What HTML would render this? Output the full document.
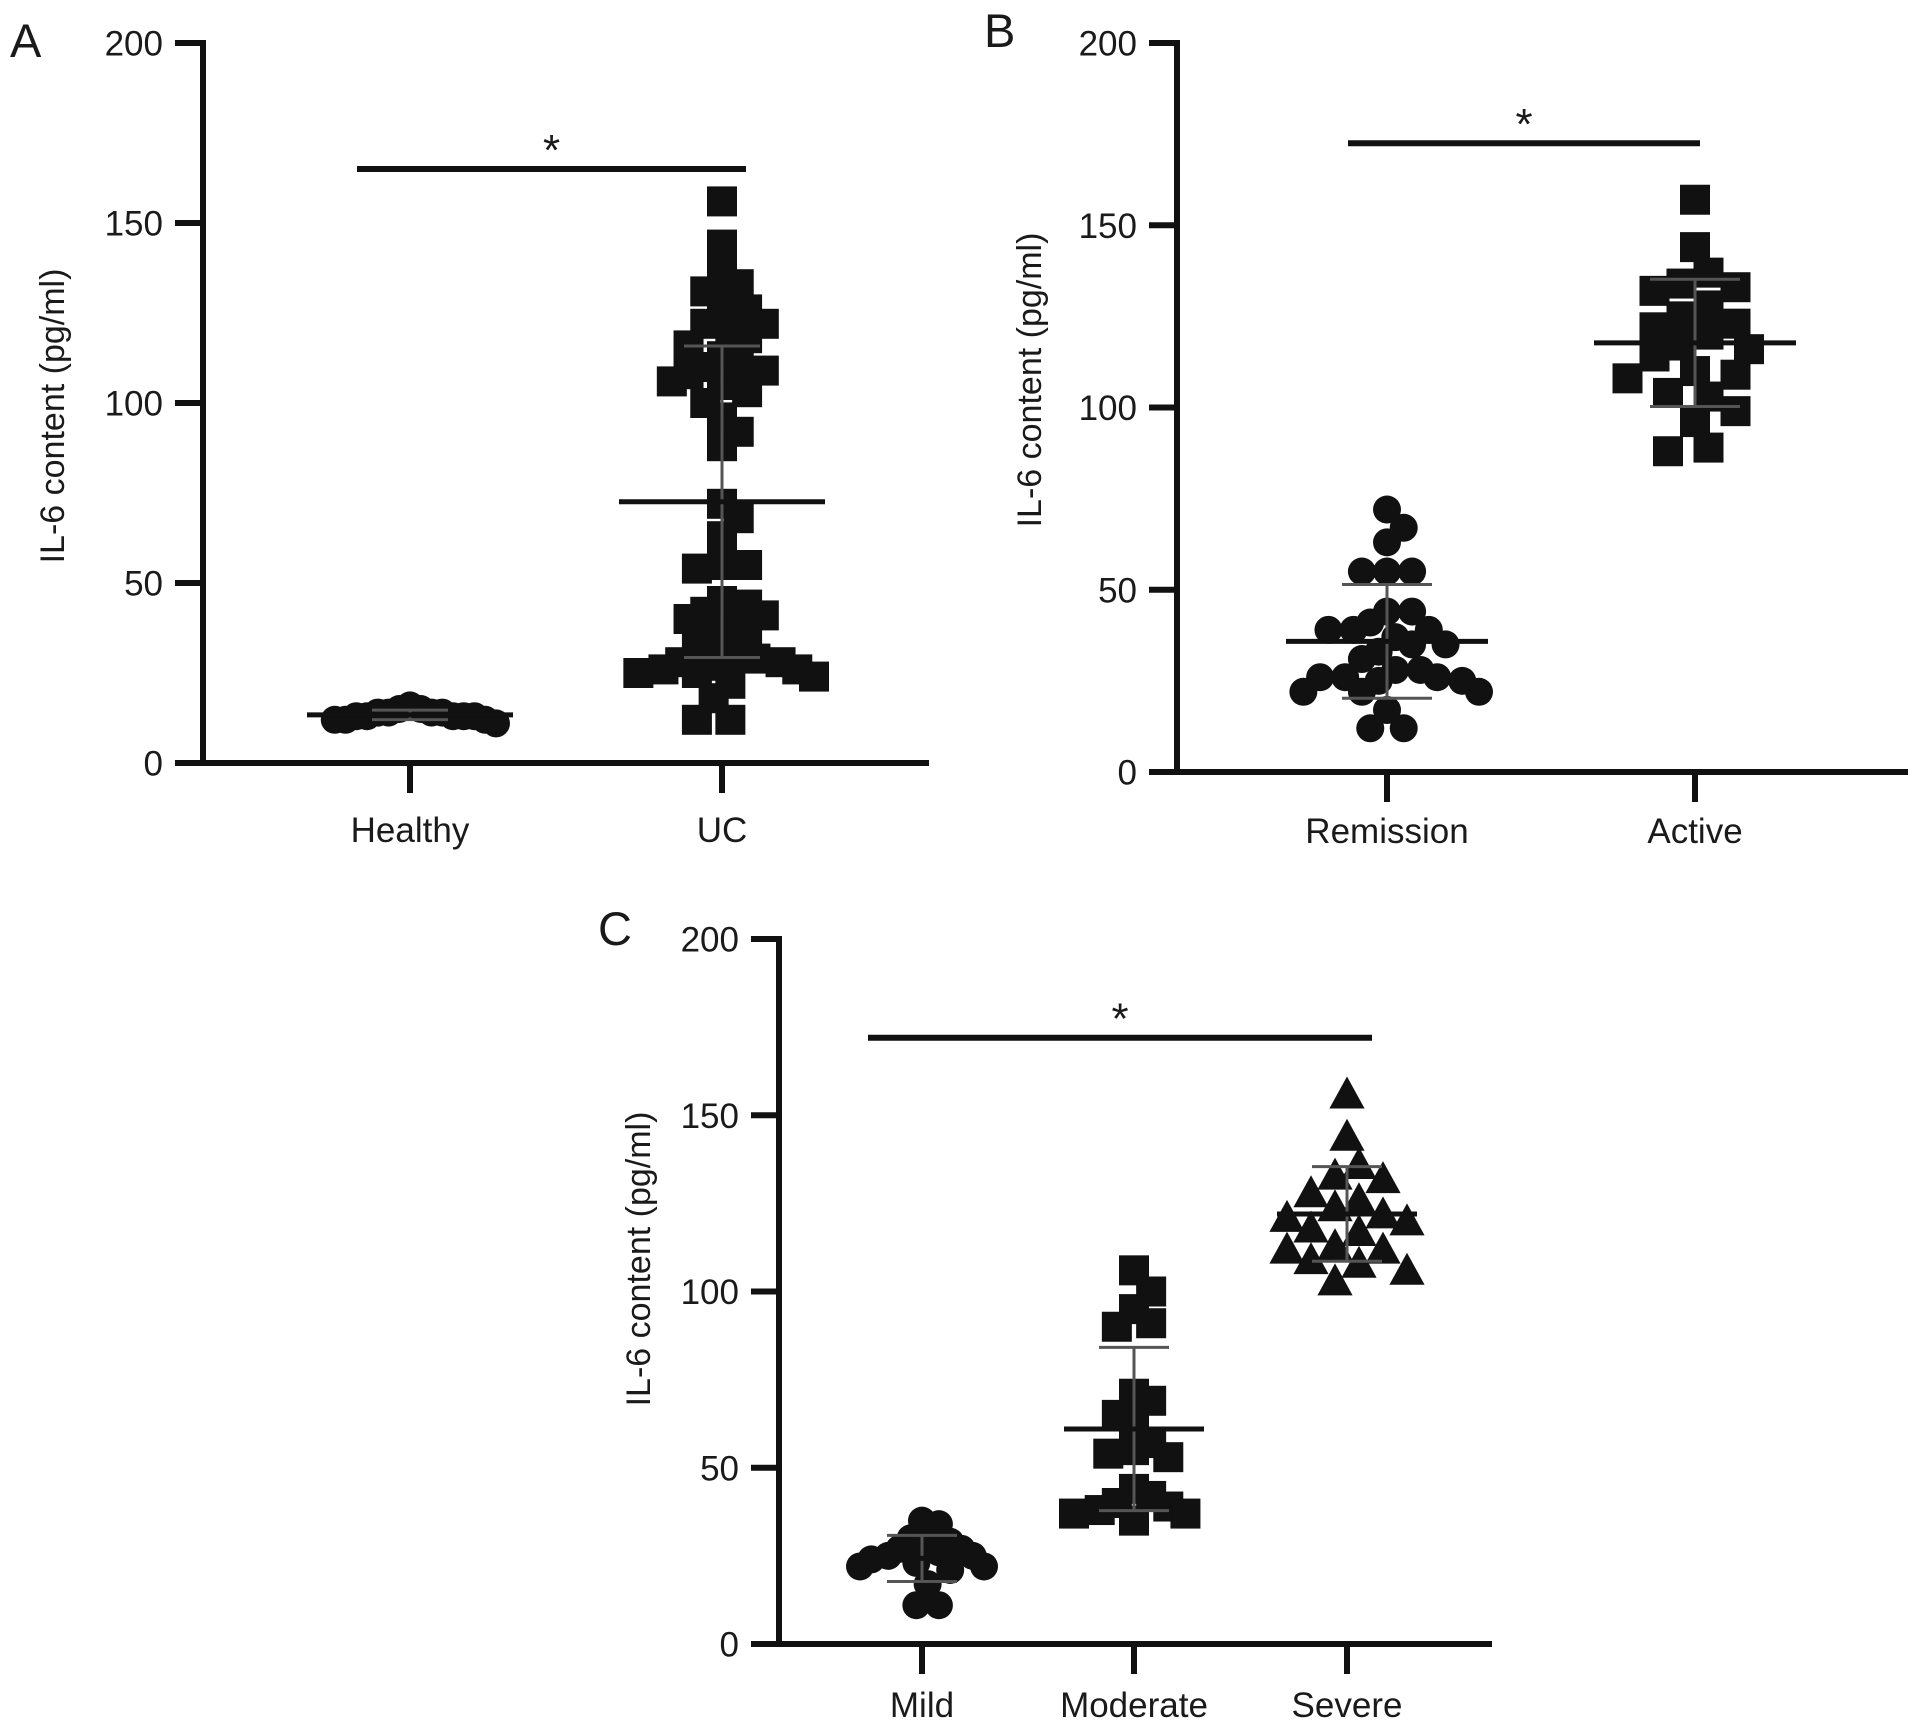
<!DOCTYPE html>
<html><head><meta charset="utf-8"><style>
html,body{margin:0;padding:0;background:#fff}
svg{display:block}
text{font-family:"Liberation Sans",Arial,sans-serif;fill:#1a1a1a}
</style></head><body>
<svg id="fig" width="1913" height="1731" viewBox="0 0 1913 1731" xmlns="http://www.w3.org/2000/svg"></svg>
<script>
// ---- data ----
const yTicks = [0, 50, 100, 150, 200];
const catsA = ["Healthy", "UC"];
const healthy = [13,14,15,13,11,14,12,13,12,14,13,15,12,16,14,13];
const uc = [156,144,136,133,131,128,126,122,122,121,118,116,113,110,110,109,108,106,105,103,100,96,92,88,72,68,63,55,55,54,45,44,42,41,40,38,36,35,33,30,29,28,28,27,26,26,25,25,24,22,18,12,12];
const catsB = ["Remission", "Active"];
const remission = [72,67,63,55,55,55,44,44,41,39,39,39,37,35,35,33,31,28,28,26,26,26,25,25,22,22,22,17,12,12];
const active = [157,144,137,134,133,132,128,125,123,122,120,117,116,114,110,109,108,104,103,99,96,89,88];
const catsC = ["Mild", "Moderate", "Severe"];
const mild = [35,34,30,29,28,27,27,26,25,25,24,23,22,22,21,17,11,11];
const moderate = [106,100,95,91,90,71,69,65,63,57,55,54,53,44,42,40,39,38,37,37,35];
const severe = [156,144,136,133,132,128,126,124,122,121,120,118,117,113,112,112,109,108,106,103];
const sigA = 165, sigB = 172.5, sigC = 172;

const NS = "http://www.w3.org/2000/svg";
const svg = document.getElementById("fig");
function mk(tag, attrs, parent, name) {
  const e = document.createElementNS(NS, tag);
  for (const k in attrs) e.setAttribute(k, attrs[k]);
  
  
  (parent || svg).appendChild(e);
  return e;
}
function mean(a){return a.reduce((s,v)=>s+v,0)/a.length;}
function sd(a){const m=mean(a);return Math.sqrt(a.reduce((s,v)=>s+(v-m)*(v-m),0)/(a.length-1));}

function swarm(vals, cx, y, s, halfW) {
  const idx = vals.map((v,i)=>i).sort((a,b)=>vals[b]-vals[a]);
  const placed = [];
  const step = s * 0.45, minD = s * 0.92;
  idx.forEach(i => {
    const py = y(vals[i]);
    for (let k = 0; k < 60; k++) {
      let found = null;
      for (const sg of (k===0?[1]:[1,-1])) {
        const px = cx + sg * k * step;
        let ok = true;
        for (const p of placed) {
          const dx = p.x - px, dy = p.y - py;
          if (dx*dx + dy*dy < minD*minD) { ok = false; break; }
        }
        if (ok) { found = px; break; }
      }
      if (found !== null) { placed.push({x: found, y: py, v: vals[i]}); break; }
    }
  });
  const maxOff = Math.max(1, ...placed.map(p => Math.abs(p.x - cx)));
  if (maxOff > halfW) {
    const f = halfW / maxOff;
    placed.forEach(p => { p.x = cx + (p.x - cx) * f; });
  }
  return placed;
}

function marker(g, shape, x, y, s, name) {
  if (shape === 'circle') mk('circle', {cx:x, cy:y, r:s/2, fill:'#111'}, g, name);
  else if (shape === 'square') mk('rect', {x:x-s/2, y:y-s/2, width:s, height:s, fill:'#111'}, g, name);
  else mk('polygon', {points:`${x},${y-s*0.55} ${x-s*0.55},${y+s*0.45} ${x+s*0.55},${y+s*0.45}`, fill:'#111'}, g, name);
}

function panel(cfg) {
  const g = mk('g', {}, svg, 'panel-' + cfg.letter.toLowerCase());
  const y = v => cfg.y0 - (v / 200) * (cfg.y0 - cfg.y200);
  mk('text', {x: cfg.letterX, y: cfg.letterY, 'font-size': 47}, g, 'panel-label').textContent = cfg.letter;
  mk('line', {x1: cfg.ax, y1: y(200)-3, x2: cfg.ax, y2: cfg.y0+3, stroke:'#111','stroke-width':6}, g, 'y-axis-line');
  yTicks.forEach(t => {
    mk('line', {x1: cfg.ax-28, y1: y(t), x2: cfg.ax, y2: y(t), stroke:'#111','stroke-width':6}, g, 'y-tick');
    mk('text', {x: cfg.ax-40, y: y(t)+12.5, 'font-size': 35, 'text-anchor':'end'}, g, 'y-tick-label').textContent = t;
  });
  mk('text', {x:0, y:0, 'font-size':34, 'text-anchor':'middle', transform:`translate(${cfg.titleX},${cfg.titleY}) rotate(-90)`}, g, 'y-axis-title').textContent = 'IL-6 content (pg/ml)';
  mk('line', {x1: cfg.ax-28, y1: cfg.y0, x2: cfg.axEnd, y2: cfg.y0, stroke:'#111','stroke-width':6}, g, 'x-axis-line');
  cfg.cats.forEach((c, i) => {
    const cx = cfg.catX[i];
    mk('line', {x1: cx, y1: cfg.y0, x2: cx, y2: cfg.y0+30, stroke:'#111','stroke-width':6}, g, 'x-tick');
    mk('text', {x: cx, y: cfg.labelY, 'font-size':35, 'text-anchor':'middle'}, g, 'x-tick-label').textContent = c;
    const vals = cfg.series[i];
    const pts = swarm(vals, cx, y, cfg.sizes[i], cfg.halfW[i]);
    const sg = mk('g', {}, g, 'series-' + c.toLowerCase());
    const m = mean(vals), s = sd(vals);
    pts.forEach(p => marker(sg, cfg.shapes[i], p.x, p.y, cfg.sizes[i], 'point-' + c.toLowerCase()));
    mk('line', {x1: cx, y1: y(m+s), x2: cx, y2: y(m-s), stroke:'#555','stroke-width':3}, g, 'sd-bar');
    mk('line', {x1: cx-cfg.capW, y1: y(m+s), x2: cx+cfg.capW, y2: y(m+s), stroke:'#555','stroke-width':3}, g, 'sd-cap-upper');
    mk('line', {x1: cx-cfg.capW, y1: y(m-s), x2: cx+cfg.capW, y2: y(m-s), stroke:'#555','stroke-width':3}, g, 'sd-cap-lower');
    mk('line', {x1: cx-cfg.meanW, y1: y(m), x2: cx+cfg.meanW, y2: y(m), stroke:'#111','stroke-width':5}, g, 'mean-line');
  });
  mk('line', {x1: cfg.sigX1, y1: y(cfg.sig), x2: cfg.sigX2, y2: y(cfg.sig), stroke:'#111','stroke-width':6}, g, 'significance-bar');
  mk('text', {x: (cfg.sigX1+cfg.sigX2)/2, y: y(cfg.sig)-4, 'font-size':44, 'text-anchor':'middle'}, g, 'significance-star').textContent = '*';
}

panel({letter:'A', letterX:10, letterY:57, ax:203, y0:763, y200:43, axEnd:929, titleX:64, titleY:416,
  cats:catsA, catX:[410,722], labelY:842, series:[healthy, uc], shapes:['circle','square'], sizes:[28,30],
  halfW:[86,92], capW:38, meanW:103, sig:sigA, sigX1:357, sigX2:746});
panel({letter:'B', letterX:984, letterY:47, ax:1177, y0:772, y200:43, axEnd:1908, titleX:1041, titleY:380,
  cats:catsB, catX:[1387,1695], labelY:843, series:[remission, active], shapes:['circle','square'], sizes:[28,30],
  halfW:[92,88], capW:45, meanW:101, sig:sigB, sigX1:1348, sigX2:1700});
panel({letter:'C', letterX:598, letterY:945, ax:779, y0:1644, y200:939, axEnd:1492, titleX:650, titleY:1259,
  cats:catsC, catX:[922,1134,1347], labelY:1717, series:[mild, moderate, severe], shapes:['circle','square','triangle'], sizes:[28,30,32],
  halfW:[62,60,60], capW:35, meanW:70, sig:sigC, sigX1:868, sigX2:1372});
</script>
</body></html>
